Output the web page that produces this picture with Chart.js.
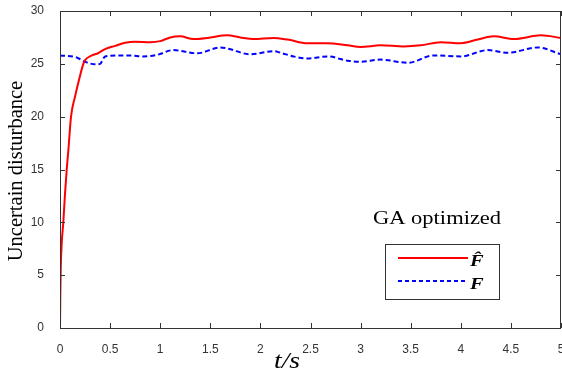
<!DOCTYPE html>
<html>
<head>
<meta charset="utf-8">
<script src="https://cdn.jsdelivr.net/npm/chart.js@4"></script>
<style>
  html, body { margin: 0; padding: 0; background: #fff; }
  #wrap { width: 562px; height: 375px; }
</style>
</head>
<body>
<div id="wrap"><canvas id="chart" width="562" height="375"></canvas></div>
<script>
// estimated F-hat (red) and F (blue) readings
const hatTime = [0, 0.003, 0.007, 0.017, 0.033, 0.05, 0.067, 0.085, 0.11, 0.15, 0.19, 0.233, 0.25, 0.32, 0.38, 0.45, 0.55, 0.65, 0.75, 0.9, 1.0, 1.1, 1.2, 1.33, 1.47, 1.67, 1.8, 1.93, 2.13, 2.27, 2.47, 2.67, 2.87, 3.0, 3.2, 3.43, 3.6, 3.8, 4.0, 4.17, 4.33, 4.53, 4.8, 5.0];
const hatValues = [0, 3, 5.5, 8, 10, 12.7, 15, 17, 20, 21.9, 23.5, 25, 25.35, 25.8, 26, 26.4, 26.7, 27.0, 27.1, 27.05, 27.15, 27.5, 27.6, 27.35, 27.45, 27.7, 27.5, 27.35, 27.45, 27.3, 26.95, 26.95, 26.75, 26.6, 26.75, 26.65, 26.75, 27.05, 26.95, 27.3, 27.6, 27.35, 27.7, 27.45];

const fTime = [0, 0.167, 0.25, 0.35, 0.4, 0.45, 0.6, 0.7, 0.83, 0.97, 1.13, 1.37, 1.6, 1.67, 1.9, 2.13, 2.2, 2.33, 2.47, 2.67, 2.87, 3.0, 3.2, 3.47, 3.73, 4.0, 4.27, 4.47, 4.77, 5.0];
const fValues = [25.8, 25.6, 25.2, 24.95, 25.0, 25.7, 25.8, 25.8, 25.7, 25.85, 26.3, 26.0, 26.55, 26.45, 25.9, 26.2, 26.05, 25.7, 25.5, 25.7, 25.3, 25.2, 25.4, 25.1, 25.8, 25.7, 26.3, 26.05, 26.55, 25.9];

const xTicks = [0, 0.5, 1, 1.5, 2, 2.5, 3, 3.5, 4, 4.5, 5];
const yTicks = [0, 5, 10, 15, 20, 25, 30];

const toPoints = (ts, vs) => ts.map((t, i) => ({ x: t, y: vs[i] }));

// text squeezed/stretched sideways like the source image
function wideText(ctx, text, x, y, sx) {
    ctx.save();
    ctx.translate(x, y);
    ctx.scale(sx, 1);
    ctx.fillText(text, 0, 0);
    ctx.restore();
}

// matlab-ish box, inner ticks, titles and legend
const decorPlugin = {
    id: 'decor',
    afterDraw(chart) {
        const ctx = chart.ctx;
        const a = chart.chartArea;
        const xs = chart.scales.x, ys = chart.scales.y;
        ctx.save();
        ctx.strokeStyle = '#333';
        ctx.lineWidth = 1;
        ctx.strokeRect(a.left + 0.5, a.top + 0.5, a.right - a.left - 1, a.bottom - a.top);

        ctx.beginPath();
        xTicks.forEach(t => {
            const px = Math.round(xs.getPixelForValue(t)) + 0.5;
            ctx.moveTo(px, a.bottom); ctx.lineTo(px, a.bottom - 5);
            ctx.moveTo(px, a.top); ctx.lineTo(px, a.top + 5);
        });
        yTicks.forEach(v => {
            const py = Math.round(ys.getPixelForValue(v)) + 0.5;
            ctx.moveTo(a.left, py); ctx.lineTo(a.left + 5, py);
            ctx.moveTo(a.right, py); ctx.lineTo(a.right - 5, py);
        });
        ctx.stroke();

        ctx.fillStyle = '#000';
        // y title
        ctx.save();
        ctx.translate(22, 171);
        ctx.rotate(-Math.PI / 2);
        ctx.font = '20.5px "Liberation Serif"';
        ctx.textAlign = 'center';
        ctx.textBaseline = 'alphabetic';
        ctx.fillText('Uncertain disturbance', 0, 0);
        ctx.restore();

        // x title
        ctx.font = 'italic 24px "Liberation Serif"';
        ctx.textAlign = 'center';
        wideText(ctx, 't/s', 287, 368, 1.15);

        // annotation
        ctx.font = '18px "Liberation Serif"';
        ctx.textAlign = 'left';
        wideText(ctx, 'GA optimized', 373, 224, 1.25);

        // legend box
        ctx.strokeStyle = '#333';
        ctx.strokeRect(385.5, 244.5, 114, 55);
        ctx.lineWidth = 2;
        ctx.strokeStyle = '#ff0000';
        ctx.beginPath(); ctx.moveTo(398, 258); ctx.lineTo(468, 258); ctx.stroke();
        ctx.strokeStyle = '#0000ff';
        ctx.setLineDash([4, 3]);
        ctx.beginPath(); ctx.moveTo(398, 281); ctx.lineTo(468, 281); ctx.stroke();
        ctx.setLineDash([]);
        ctx.font = 'bold italic 17px "Liberation Serif"';
        wideText(ctx, 'F\u0302', 470, 266, 1.2);
        wideText(ctx, 'F', 470, 289, 1.2);
        ctx.restore();
    }
};

new Chart(document.getElementById('chart'), {
    type: 'line',
    data: {
        datasets: [
            {
                label: 'F hat',
                data: toPoints(hatTime, hatValues),
                borderColor: '#ff0000',
                borderWidth: 2,
                pointRadius: 0,
                cubicInterpolationMode: 'monotone'
            },
            {
                label: 'F',
                data: toPoints(fTime, fValues),
                borderColor: '#0000ff',
                borderWidth: 2,
                borderDash: [5, 3],
                pointRadius: 0,
                cubicInterpolationMode: 'monotone'
            }
        ]
    },
    options: {
        responsive: false,
        animation: false,
        layout: { padding: { top: 11, right: 1, left: 0, bottom: 0 } },
        plugins: { legend: { display: false }, tooltip: { enabled: false } },
        scales: {
            x: {
                type: 'linear',
                min: 0,
                max: 5,
                afterFit(scale) {
                    scale.height = 47;
                    scale.paddingLeft = 0;
                    scale.paddingRight = 0;
                },
                afterBuildTicks(scale) { scale.ticks = xTicks.map(v => ({ value: v })); },
                grid: { display: false },
                border: { display: false },
                ticks: {
                    color: '#333',
                    padding: 6,
                    maxRotation: 0,
                    font: { family: 'Liberation Sans', size: 12 },
                    callback: v => String(v)
                }
            },
            y: {
                min: 0,
                max: 30,
                afterFit(scale) {
                    scale.width = 60;
                    scale.paddingTop = 0;
                    scale.paddingBottom = 0;
                },
                afterBuildTicks(scale) { scale.ticks = yTicks.map(v => ({ value: v })); },
                grid: { display: false },
                border: { display: false },
                ticks: {
                    color: '#333',
                    padding: 8,
                    font: { family: 'Liberation Sans', size: 12 }
                }
            }
        }
    },
    plugins: [decorPlugin]
});
</script>
</body>
</html>
